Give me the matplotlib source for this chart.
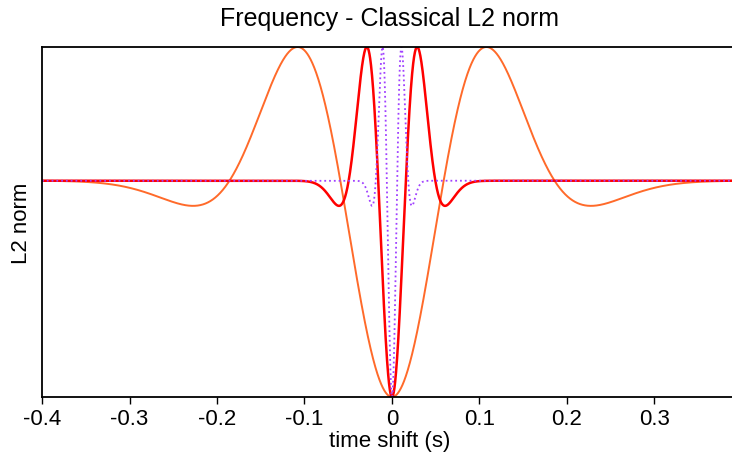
import numpy as np
import matplotlib
matplotlib.use("Agg")
import matplotlib.pyplot as plt

plt.rcParams['font.family'] = ['Liberation Sans', 'DejaVu Sans']

# Data: peak frequencies (Hz) of the Ricker wavelets compared
freqs = [4, 15, 40]
colors = ["#FF6A2A", "#FF0000", "#A040FF"]
styles = ["-", "-", ":"]
widths = [1.4, 1.8, 1.3]
xticks = [-0.4, -0.3, -0.2, -0.1, 0.0, 0.1, 0.2, 0.3]
xticklabels = ["-0.4", "-0.3", "-0.2", "-0.1", "0", "0.1", "0.2", "0.3"]

shift = np.linspace(-0.4, 0.4, 4001)

fig = plt.figure(figsize=(7.32, 4.56), dpi=100)
ax = fig.add_axes([42/732, 58/456, 696/732, 350/456])

ymax = 0
for f, c, ls, lw in zip(freqs, colors, styles, widths):
    x = np.pi * f * shift
    r = (x**4 - 6*x**2 + 3) / 3.0 * np.exp(-x**2 / 2.0)
    l2 = 1.0 - r
    ymax = max(ymax, l2.max())
    ax.plot(shift, l2, color=c, linestyle=ls, linewidth=lw)

ax.set_xlim(-0.4, (738 - 392) / 875)
ax.set_ylim(0, ymax)
ax.set_xticks(xticks)
ax.set_xticklabels(xticklabels, fontsize=16)
ax.set_yticks([])
ax.tick_params(axis='x', direction='out', length=5, width=1, pad=3)
for s in ['left', 'bottom', 'top']:
    ax.spines[s].set_linewidth(1.3)
ax.spines['right'].set_visible(False)

ax.set_xlabel("time shift (s)", fontsize=16, labelpad=1)
ax.set_ylabel("L2 norm", fontsize=16, labelpad=7)
fig.text(390/732, 1 - 19/456, "Frequency - Classical L2 norm", fontsize=18,
         ha='center', va='center')

fig.savefig("out.png", dpi=100)
